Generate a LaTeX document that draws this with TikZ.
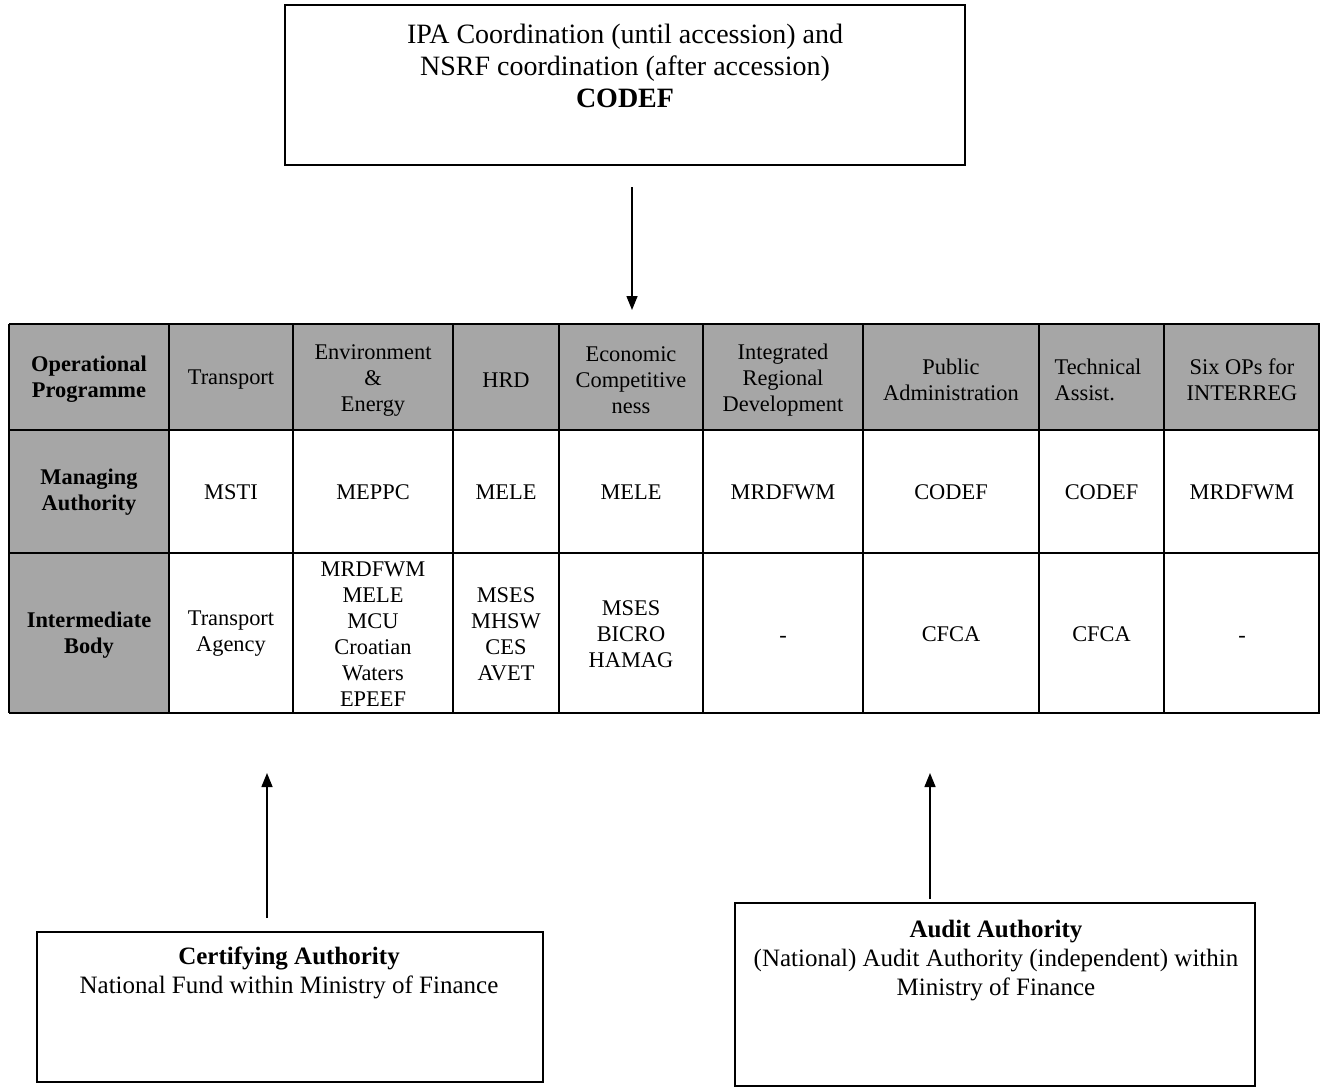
\documentclass[tikz,border=0pt]{standalone}
\usepackage{fontspec}
\setmainfont{Liberation Serif}
\usetikzlibrary{arrows.meta}
\definecolor{hdrgray}{gray}{0.65}

\begin{document}
\begin{tikzpicture}[x=0.5pt, y=-0.5pt, line width=1pt,
  txt/.style={align=center, inner sep=0pt, font=\fontsize{11.2}{13}\selectfont},
  bigtxt/.style={align=center, inner sep=0pt, font=\fontsize{14}{16}\selectfont},
  boxtxt/.style={align=center, inner sep=0pt, font=\fontsize{12.5}{14.5}\selectfont},
  frame/.style={draw, line width=1pt, inner sep=0pt},
  arr/.style={-{Triangle[length=7pt,width=5.5pt]}, line width=0.75pt}]
  \useasboundingbox (0,0) rectangle (1320,1087);

  % coordination box
  \node[frame, minimum width=340pt, minimum height=80pt] (coordbox) at (625,85) {};
  \node[bigtxt] (coordtxt) at (625,66) {IPA Coordination (until accession) and\\NSRF coordination (after accession)\\\textbf{CODEF}};

  % table shading
  \fill[hdrgray] (9,324) rectangle (1320,430);
  \fill[hdrgray] (9,430) rectangle (169,713);

  % row labels
  \node[txt] (op-0) at (89,379) {\textbf{Operational}\\\textbf{Programme}};
  \node[txt] (ma-0) at (89,492) {\textbf{Managing}\\\textbf{Authority}};
  \node[txt] (ib-0) at (89,635) {\textbf{Intermediate}\\\textbf{Body}};

  % operational programmes
  \foreach \cx/\t [count=\i] in {231/Transport, 373/{Environment\\\&\\Energy}, 506/HRD,
      631/{Economic\\Competitive\\ness}, 783/{Integrated\\Regional\\Development},
      951/{Public\\Administration}, 1242/{Six OPs for\\INTERREG}}
    \node[txt] (op-\i) at (\cx,380) {\t};
  \node[txt, align=left] (op-ta) at (1098,380) {Technical\\Assist.};

  % managing authorities
  \foreach \cx/\t [count=\i] in {231/MSTI, 373/MEPPC, 506/MELE, 631/MELE, 783/MRDFWM,
      951/CODEF, 1101.5/CODEF, 1242/MRDFWM}
    \node[txt] (ma-\i) at (\cx,492.5) {\t};

  % intermediate bodies
  \foreach \cx/\t [count=\i] in {231/{Transport\\Agency},
      373/{MRDFWM\\MELE\\MCU\\Croatian\\Waters\\EPEEF}, 506/{MSES\\MHSW\\CES\\AVET},
      631/{MSES\\BICRO\\HAMAG}, 951/CFCA, 1101.5/CFCA}
    \node[txt] (ib-\i) at (\cx,634) {\t};
  \node[txt] (ib-ird) at (783,639) {-};
  \node[txt] (ib-six) at (1242,639) {-};

  % grid
  \foreach \x in {9,169,293,453,559,703,863,1039,1164,1319}
    \draw (\x,324) -- (\x,713);
  \foreach \y in {324,430,553,713}
    \draw (9,\y) -- (1320,\y);

  % certifying and audit boxes
  \node[frame, minimum width=253pt, minimum height=75pt] (certbox) at (290,1007) {};
  \node[boxtxt] (certtxt) at (289,973) {\textbf{Certifying Authority}\\National Fund within Ministry of Finance};
  \node[frame, minimum width=260pt, minimum height=91.5pt] (auditbox) at (995,994.5) {};
  \node[boxtxt] (audittxt) at (996,961) {\textbf{Audit Authority}\\(National) Audit Authority (independent) within\\Ministry of Finance};

  % arrows
  \coordinate (down-a) at (632,187);
  \coordinate (down-b) at (632,310);
  \coordinate (cert-a) at (267,918);
  \coordinate (cert-b) at (267,773);
  \coordinate (audit-a) at (930,899);
  \coordinate (audit-b) at (930,773);
  \draw[arr] (down-a) -- (down-b);
  \draw[arr] (cert-a) -- (cert-b);
  \draw[arr] (audit-a) -- (audit-b);
\end{tikzpicture}
\end{document}
